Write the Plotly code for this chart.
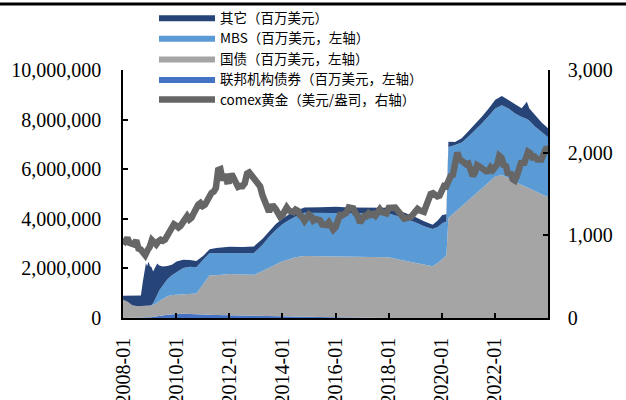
import pandas as pd
import plotly.graph_objects as go

# Fed balance sheet components (百万美元), stacked bottom-up
bs_dates = [
    "2008-01-02", "2008-03-05", "2008-05-07", "2008-07-02", "2008-09-03", "2008-10-01",
    "2008-10-22", "2008-11-05", "2008-11-12", "2008-11-26", "2008-12-17", "2009-01-07",
    "2009-01-28", "2009-02-18", "2009-03-25", "2009-04-15", "2009-05-13", "2009-07-01",
    "2009-09-02", "2009-11-04", "2010-01-06", "2010-04-07", "2010-07-07", "2010-10-06",
    "2011-01-05", "2011-04-06", "2011-07-06", "2012-01-04", "2012-07-04", "2012-12-05",
    "2013-04-03", "2013-07-03", "2013-10-02", "2014-01-01", "2014-04-02", "2014-07-02",
    "2014-10-29", "2015-06-03", "2016-01-06", "2016-07-06", "2017-01-04", "2017-07-05",
    "2017-10-04", "2018-01-03", "2018-07-04", "2019-01-02", "2019-05-01", "2019-08-28",
    "2019-11-06", "2020-01-08", "2020-03-04", "2020-04-01", "2020-07-01", "2020-10-01",
    "2021-01-06", "2021-04-07", "2021-07-07", "2021-10-06", "2022-01-05", "2022-04-06",
    "2022-07-06", "2022-10-05", "2023-01-04", "2023-03-15", "2023-04-19", "2023-07-05",
    "2023-10-04", "2024-01-03",
]
agency = [
    0, 0, 0, 0, 0, 0,
    0, 8000, 10000, 12000, 20000, 26000,
    34000, 55000, 65000, 70000, 90000, 105000,
    130000, 150000, 160000, 168000, 165000, 155000,
    147000, 130000, 118000, 105000, 90000, 82000,
    72000, 67000, 60000, 57000, 50000, 45000,
    40000, 36000, 33000, 20000, 10000, 4400,
    4400, 2400, 2400, 2400, 2400, 2400,
    2400, 2400, 2400, 2400, 2400, 2400,
    2400, 2400, 2400, 2400, 2400, 2400,
    2400, 2400, 2400, 2400, 2400, 2400,
    2400, 2400,
]
treasury = [
    740000, 660000, 510000, 480000, 480000, 480000,
    476000, 476000, 476000, 476000, 476000, 475000,
    475000, 475000, 490000, 530000, 600000, 680000,
    750000, 775000, 777000, 777000, 777000, 830000,
    1200000, 1590000, 1610000, 1670000, 1660000, 1660000,
    1820000, 1960000, 2090000, 2230000, 2320000, 2400000,
    2460000, 2460000, 2460000, 2460000, 2465000, 2465000,
    2465000, 2450000, 2330000, 2220000, 2130000, 2080000,
    2220000, 2400000, 2520000, 4027600, 4267600, 4507600,
    4747600, 4987600, 5227600, 5467600, 5707600, 5767600,
    5647600, 5477600, 5357600, 5297600, 5247600, 5117600,
    4987600, 4867600,
]
mbs = [
    0, 0, 0, 0, 0, 0,
    0, 0, 0, 0, 0, 0,
    20000, 60000, 240000, 330000, 420000, 530000,
    680000, 800000, 900000, 1070000, 1120000, 1060000,
    990000, 900000, 880000, 850000, 860000, 880000,
    1060000, 1250000, 1400000, 1490000, 1580000, 1650000,
    1740000, 1740000, 1750000, 1740000, 1750000, 1770000,
    1770000, 1760000, 1720000, 1640000, 1570000, 1510000,
    1450000, 1420000, 1370000, 2870000, 2710000, 2570000,
    2580000, 2590000, 2620000, 2680000, 2740000, 2810000,
    2800000, 2770000, 2740000, 2720000, 2700000, 2600000,
    2490000, 2410000,
]
other = [
    160000, 240000, 380000, 410000, 425000, 1010000,
    1330000, 1600000, 1730000, 1600000, 1770000, 1590000,
    1520000, 1290000, 1280000, 1270000, 1010000, 760000,
    540000, 420000, 440000, 330000, 280000, 250000,
    160000, 150000, 210000, 250000, 250000, 265000,
    240000, 230000, 240000, 230000, 230000, 220000,
    220000, 230000, 240000, 240000, 225000, 220000,
    210000, 230000, 230000, 210000, 200000, 170000,
    260000, 330000, 290000, 210000, 120000, 170000,
    220000, 250000, 270000, 300000, 350000, 370000,
    350000, 370000, 360000, 700000, 500000, 480000,
    400000, 360000,
]

# COMEX gold, monthly (美元/盎司), 2008-01 .. 2024-01
gold_dates = pd.date_range("2008-01-01", "2024-01-01", freq="MS")
gold = [
    889, 922, 968, 909, 888, 889, 939, 839, 829, 806, 760, 816,
    858, 943, 924, 890, 928, 946, 934, 949, 996, 1044, 1127, 1135,
    1118, 1095, 1114, 1149, 1205, 1233, 1193, 1215, 1271, 1343, 1370, 1391,
    1356, 1372, 1424, 1474, 1512, 1529, 1572, 1790, 1800, 1665, 1739, 1652,
    1656, 1743, 1674, 1650, 1585, 1596, 1594, 1630, 1745, 1760, 1722, 1685,
    1671, 1628, 1592, 1485, 1414, 1343, 1286, 1347, 1349, 1316, 1275, 1225,
    1244, 1300, 1336, 1299, 1288, 1279, 1311, 1296, 1239, 1222, 1176, 1201,
    1251, 1227, 1179, 1198, 1199, 1182, 1131, 1117, 1125, 1157, 1086, 1068,
    1097, 1200, 1246, 1242, 1261, 1276, 1337, 1340, 1326, 1266, 1236, 1152,
    1192, 1234, 1231, 1266, 1246, 1260, 1237, 1283, 1315, 1280, 1282, 1265,
    1331, 1331, 1325, 1335, 1303, 1282, 1238, 1202, 1199, 1215, 1221, 1250,
    1291, 1320, 1301, 1286, 1284, 1359, 1413, 1500, 1510, 1495, 1471, 1480,
    1560, 1597, 1592, 1683, 1716, 1732, 1847, 2000, 1922, 1900, 1866, 1858,
    1867, 1808, 1718, 1760, 1850, 1834, 1807, 1785, 1775, 1777, 1821, 1790,
    1817, 1856, 1960, 1937, 1849, 1837, 1732, 1764, 1681, 1664, 1726, 1798,
    1898, 1855, 1913, 2010, 1992, 1943, 1951, 1918, 1916, 1916, 1985, 2045,
    2045,
]

series = [
    ("联邦机构债券（百万美元，左轴）", agency, "#4472C4", 4),
    ("国债（百万美元，左轴）", treasury, "#A5A5A5", 3),
    ("MBS（百万美元，左轴）", mbs, "#5B9BD5", 2),
    ("其它（百万美元）", other, "#264478", 1),
]

fig = go.Figure()
for name, vals, color, rank in series:
    fig.add_trace(go.Scatter(
        x=bs_dates, y=vals, name=name, mode="lines", stackgroup="bs",
        line=dict(width=0, color=color), fillcolor=color, legendrank=rank,
    ))

fig.add_trace(go.Scatter(
    x=gold_dates, y=gold, name="comex黄金（美元/盎司，右轴）", yaxis="y2",
    mode="lines", line=dict(color="#666666", width=6.5), legendrank=5,
))

SERIF = "Liberation Serif, Times New Roman, DejaVu Serif, serif"
tick_font = dict(family=SERIF, size=20, color="black")
axis_common = dict(
    showline=True, linecolor="black", linewidth=1.5, showgrid=False, zeroline=False,
    ticks="inside", ticklen=5, tickwidth=1.5, tickcolor="black", tickfont=tick_font,
    automargin=False,
)

# Plot box: 425 x 248 px at (123, 70); the paper area runs up to the top edge
W, H = 626, 400
PW, PH, L, T = 425, 248, 123, 70
B = H - T - PH
PAPER_H = H - B
dom_top = PH / PAPER_H


def py(px_from_top):
    """Paper y fraction for a pixel row measured from the top of the figure."""
    return 1 - px_from_top / PAPER_H


fig.update_layout(
    width=W, height=H,
    margin=dict(l=L, r=W - L - PW, t=0, b=B),
    paper_bgcolor="white", plot_bgcolor="white",
    font=dict(family=SERIF),
    legend=dict(
        x=(154 - L) / PW, y=py(2), xanchor="left", yanchor="top",
        bgcolor="rgba(0,0,0,0)", itemwidth=56, tracegroupgap=0, traceorder="normal",
        font=dict(family="Noto Sans CJK SC", size=13.5, color="black"),
    ),
    xaxis=dict(
        type="date", range=["2008-01-01", "2023-12-31"], tick0="2008-01-01",
        dtick="M24", tickformat="%Y-%m", tickangle=-90, ticklabelstandoff=10,
        **axis_common,
    ),
    yaxis=dict(range=[0, 10000000], dtick=2000000, tickformat=",d",
               domain=[0, dom_top], ticklabelstandoff=16, **axis_common),
    yaxis2=dict(range=[0, 3000], dtick=1000, tickformat=",d", overlaying="y",
                side="right", ticklabelstandoff=14, **axis_common),
    shapes=[dict(
        type="rect", xref="paper", yref="paper", layer="above",
        x0=-L / PW, x1=(W - L) / PW, y0=py(5.5), y1=py(2.5),
        fillcolor="black", line=dict(width=0),
    )],
)

fig.write_html("out.html")
